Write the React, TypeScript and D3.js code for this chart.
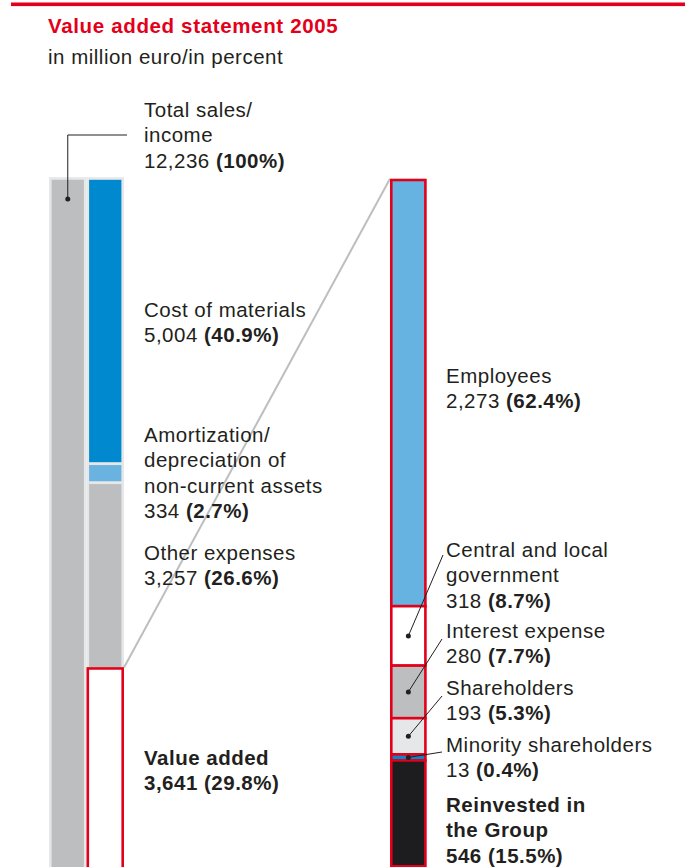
import * as React from 'react';
import * as d3 from 'd3';

const title = 'Value added statement 2005';
const subtitle = 'in million euro/in percent';

const totalLines = ['Total sales/', 'income'];
const totalValue = 12236;
const totalPercent = 100;

const leftCategories = [['Cost of materials'], ['Amortization/', 'depreciation of', 'non-current assets'], ['Other expenses'], ['Value added']];
const leftValues = [5004, 334, 3257, 3641];
const leftPercents = [40.9, 2.7, 26.6, 29.8];

const rightCategories = [['Employees'], ['Central and local', 'government'], ['Interest expense'], ['Shareholders'], ['Minority shareholders'], ['Reinvested in', 'the Group']];
const rightValues = [2273, 318, 280, 193, 13, 546];
const rightPercents = [62.4, 8.7, 7.7, 5.3, 0.4, 15.5];

const W = 685;
const H = 867;
const RED = '#e2001a';
const INK = '#231f20';
const GREY = '#bcbec0';
const PALE = '#e6e7e8';
const FONT = '"Liberation Sans", Arial, Helvetica, sans-serif';
const FS = 20.5;
const LS = 0.5;
const LH = 25.3;

const leftFill = ['#0089cf', '#6ab3e1', GREY, '#ffffff'];
const rightFill = ['#66b2e0', '#ffffff', GREY, PALE, '#0089cf', '#1d1c1f'];

// label layout (first baseline of each block)
const leftLabelY = [317, 442, 560, 765];
const rightLabelY = [383, 557, 638, 695, 752, 812];
const leftLabelX = 144;
const rightLabelX = 446;

const fmt = d3.format(',');

function stack(values: number[]) {
    let acc = 0;
    return values.map(v => {
        const s = acc;
        acc += v;
        return [s, acc];
    });
}

const Label = (props: { x: number; y: number; lines: string[]; value: number; pct: number; bold?: boolean }) => {
    const { x, y, lines, value, pct, bold } = props;
    return (
        <text x={x} y={y} fontFamily={FONT} fontSize={FS} letterSpacing={LS} fill={INK} fontWeight={bold ? 'bold' : 'normal'}>
            {lines.map((l, i) => (
                <tspan key={i} x={x} y={y + i * LH}>{l}</tspan>
            ))}
            <tspan x={x} y={y + lines.length * LH}>{fmt(value) + ' '}</tspan>
            <tspan fontWeight="bold">{'(' + pct + '%)'}</tspan>
        </text>
    );
};

const App = () => {
    const sw = 2.6;
    const xCol = d3.scaleBand<string>().domain(['total', 'parts']).range([49, 124]);
    const bw = xCol.bandwidth();
    const yLeft = d3.scaleLinear().domain([0, totalValue]).range([178.5, 876]);

    // right column: share of value added, tiny slices get a minimum height
    const rTop = 180;
    const hRight = d3.scaleLinear().domain([0, 100]).range([0, 683]);
    const minH = 6;
    let acc = rTop;
    const rightSegs = rightPercents.map(p => {
        const h = Math.max(minH, hRight(p));
        const seg = { y0: acc, y1: acc + h };
        acc += h;
        return seg;
    });
    const rx0 = 390;
    const rw = 36.7;
    const rcx = rx0 + rw / 2;

    const leftStack = stack(leftValues);

    const totalCx = (xCol('total') as number) + bw / 2;
    const partsX = xCol('parts') as number;
    const vaTop = yLeft(leftStack[3][0]);

    // leader line starts next to label text
    const rightLeaders = [
        { i: 1, x: 443, y: 555 },
        { i: 2, x: 442, y: 639 },
        { i: 3, x: 442, y: 696 },
        { i: 4, x: 442, y: 752 },
    ];

    return (
        <svg width={W} height={H} style={{ position: 'absolute', left: 0, top: 0 }}>
            <rect x={11} y={2.5} width={W - 11} height={3.6} fill={RED} />
            <text x={48} y={33} fontFamily={FONT} fontSize={20.5} letterSpacing={0.65} fontWeight="bold" fill={RED}>{title}</text>
            <text x={48} y={64} fontFamily={FONT} fontSize={FS} letterSpacing={LS} fill={INK}>{subtitle}</text>

            {/* total column */}
            <rect x={(xCol('total') as number) + sw / 2} y={yLeft(0)} width={bw - sw} height={yLeft(totalValue) - yLeft(0)}
                fill={GREY} stroke={PALE} strokeWidth={sw} />

            {/* breakdown column */}
            {leftStack.map(([a, b], i) => (
                <rect key={i} x={partsX + sw / 2} y={yLeft(a)} width={bw - sw} height={yLeft(b) - yLeft(a)}
                    fill={leftFill[i]} stroke={i === 3 ? RED : PALE} strokeWidth={sw} />
            ))}

            {/* connector from value added to its breakdown */}
            <line x1={partsX + bw} y1={vaTop - 1} x2={rx0} y2={rTop - 1.3} stroke={GREY} strokeWidth={2} />

            {/* value added distribution */}
            {rightSegs.map((s, i) => (
                <rect key={i} x={rx0 + sw / 2} y={s.y0} width={rw - sw} height={s.y1 - s.y0}
                    fill={rightFill[i]} stroke={RED} strokeWidth={sw} />
            ))}

            {/* total leader */}
            <polyline points={`127,135 ${totalCx},135 ${totalCx},199`} fill="none" stroke={INK} strokeWidth={1} />
            <circle cx={totalCx} cy={199} r={2.5} fill={INK} />

            {rightLeaders.map(d => {
                const cy = (rightSegs[d.i].y0 + rightSegs[d.i].y1) / 2;
                return (
                    <g key={d.i}>
                        <line x1={d.x} y1={d.y} x2={rcx} y2={cy} stroke={INK} strokeWidth={1} />
                        <circle cx={rcx} cy={cy} r={2.5} fill={INK} />
                    </g>
                );
            })}

            <Label x={leftLabelX} y={117} lines={totalLines} value={totalValue} pct={totalPercent} />
            {leftCategories.map((lines, i) => (
                <Label key={i} x={leftLabelX} y={leftLabelY[i]} lines={lines} value={leftValues[i]} pct={leftPercents[i]} bold={i === 3} />
            ))}
            {rightCategories.map((lines, i) => (
                <Label key={i} x={rightLabelX} y={rightLabelY[i]} lines={lines} value={rightValues[i]} pct={rightPercents[i]} bold={i === 5} />
            ))}
        </svg>
    );
};

export default App;
